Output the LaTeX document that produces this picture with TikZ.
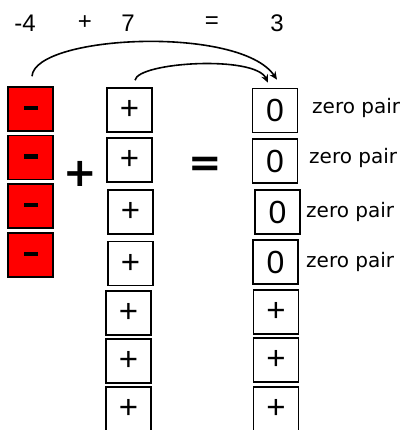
\documentclass[tikz,border=0pt]{standalone}
\usepackage{fontspec}
\setmainfont{Liberation Sans}
\newfontfamily\labelfont{DejaVu Sans}
\newfontfamily\bigsign{DejaVu Sans}
\usetikzlibrary{arrows.meta}
\tikzset{
  tile/.style={draw=black, line width=1.6pt, minimum width=45pt, minimum height=44pt, inner sep=0pt},
  redtile/.style={tile, fill=red},
  minusbar/.style={fill=black, minimum width=14pt, minimum height=4.5pt, inner sep=0pt},
  plustile/.style={tile, font=\fontsize{33}{33}\selectfont},
  zerotile/.style={tile, font=\fontsize{32}{32}\selectfont},
  toplabel/.style={font=\fontsize{24}{24}\selectfont, inner sep=0pt},
  pairlabel/.style={font=\labelfont\fontsize{20}{20}\selectfont, anchor=west, inner sep=0pt},
  bigop/.style={font=\bigsign\bfseries\fontsize{40}{40}\selectfont, inner sep=0pt},
  arc/.style={line width=1.6pt, -{Stealth[length=8pt,width=7pt]}}
}
\begin{document}
\begin{tikzpicture}[x=1pt,y=-1pt]
\useasboundingbox (0,0) rectangle (415,430);
% top equation
\node[toplabel] (tm4) at (25,23) {-4};
\node[toplabel] (tplus) at (85,23) {+};
\node[toplabel] (t7) at (128,23) {7};
\node[toplabel] (teq) at (212,23) {=};
\node[toplabel] (t3) at (277,23) {3};
% red tiles
\node[redtile] (r1) at (30.5,109) {};
\node[redtile] (r2) at (30.5,157.5) {};
\node[redtile] (r3) at (30.5,206) {};
\node[redtile] (r4) at (30.5,255) {};
\node[minusbar] (m1) at ([yshift=1pt]r1.center) {};
\node[minusbar] (m2) at ([yshift=1pt]r2.center) {};
\node[minusbar] (m3) at ([yshift=1pt]r3.center) {};
\node[minusbar] (m4) at ([yshift=1pt]r4.center) {};
% big operators
\node[bigop] (bplus) at (80,174) {+};
\node[bigop] (beq) at (205,167) {=};
% plus tiles
\node[plustile] (p1) at (129.5,110) {+};
\node[plustile] (p2) at (129.5,160) {+};
\node[plustile] (p3) at (130.5,212) {+};
\node[plustile] (p4) at (130.5,263.5) {+};
\node[plustile] (p5) at (128.5,313) {+};
\node[plustile] (p6) at (128.5,361) {+};
\node[plustile] (p7) at (128.5,409) {+};
% result tiles
\node[zerotile] (z1) at (275,110.5) {0};
\node[zerotile] (z2) at (275,161) {0};
\node[zerotile] (z3) at (277.5,212) {0};
\node[zerotile] (z4) at (275.5,262) {0};
\node[plustile] (z5) at (276,312) {+};
\node[plustile] (z6) at (276,360) {+};
\node[plustile] (z7) at (276,409) {+};
% labels
\node[pairlabel] (l1) at (312,108) {zero pair};
\node[pairlabel] (l2) at (309,158) {zero pair};
\node[pairlabel] (l3) at (306,212) {zero pair};
\node[pairlabel] (l4) at (306,262) {zero pair};
% arrows
\coordinate (a1s) at ([xshift=1.5pt,yshift=10pt]r1.north);
\coordinate (a1e) at ([xshift=2pt,yshift=8pt]z1.north);
\coordinate (a2s) at ([xshift=5.5pt,yshift=7pt]p1.north);
\coordinate (a2e) at ([xshift=-7pt,yshift=5pt]z1.north);
\draw[arc] (a1s) .. controls (35,35) and (240,25) .. (a1e);
\draw[arc] (a2s) .. controls (138,62) and (255,55) .. (a2e);
\end{tikzpicture}
\end{document}
